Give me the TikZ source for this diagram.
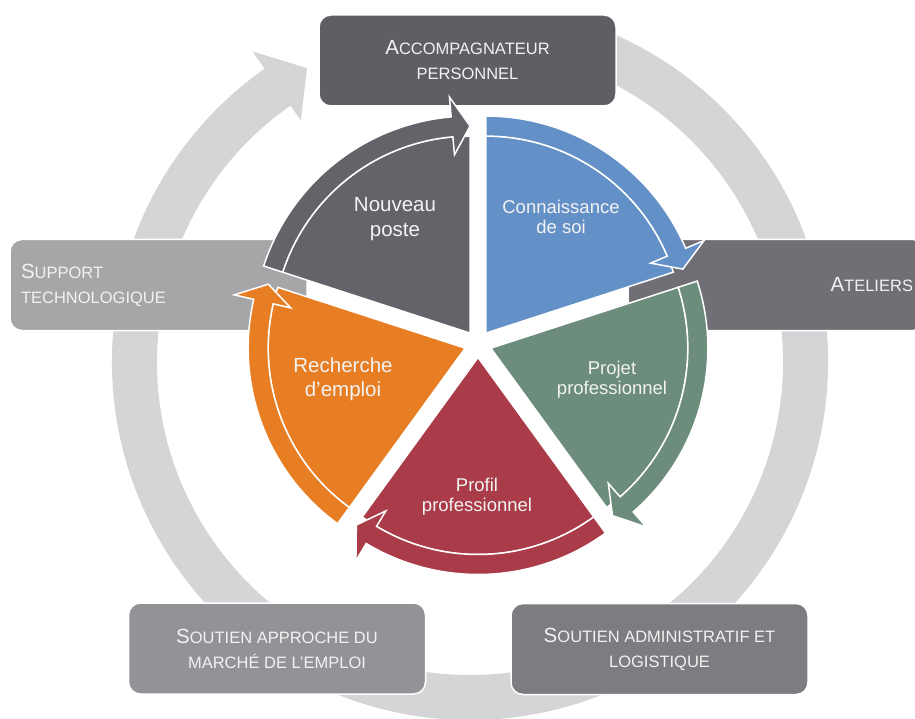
\documentclass[tikz,border=0pt]{standalone}
\usepackage{fontspec}
\setmainfont{Liberation Sans}
\usetikzlibrary{calc}
\definecolor{segGray}{RGB}{99,100,106}
\definecolor{segBlue}{RGB}{99,145,199}
\definecolor{segGreen}{RGB}{108,140,124}
\definecolor{segRed}{RGB}{170,60,73}
\definecolor{segOrange}{RGB}{232,126,36}
\definecolor{boxTop}{RGB}{94,95,101}
\definecolor{boxRight}{RGB}{111,111,117}
\definecolor{boxLeft}{RGB}{166,166,168}
\definecolor{boxBL}{RGB}{146,147,151}
\definecolor{boxBR}{RGB}{124,124,129}
\definecolor{ringCol}{RGB}{212,213,215}
\definecolor{txtCol}{RGB}{242,242,242}
\newcommand\BigLet[1]{{\fontsize{20.5pt}{25pt}\selectfont #1}}
\newcommand\drawseg[3]{%
  \pgfmathsetmacro\segE{#1-72}%
  \pgfmathsetmacro\segB{#1-36}%
  \pgfmathsetmacro\segH{#1-72+5}%
  \coordinate (#3) at ($(C)+(\segB:13.5)$);
  \fill[#2, draw=white, line width=1.5pt] (#3) -- ($(#3)+(#1:197)$)
     arc[start angle=#1, end angle=\segE, radius=197pt] -- cycle;
  \fill[#2, draw=white, line width=1.5pt, line join=miter]
     ($(#3)+(#1:217)$) arc[start angle=#1, end angle=\segH, radius=217pt]
     -- ($(#3)+(\segH:237)$) -- ($(#3)+(\segE:207)$) -- ($(#3)+(\segH:179)$)
     -- ($(#3)+(\segH:197)$) arc[start angle=\segH, end angle=#1, radius=197pt] -- cycle;
}
\begin{document}
\begin{tikzpicture}[x=1pt,y=1pt,
  box/.style={rounded corners=12pt, draw=white, line width=1.5pt,
    minimum width=297pt, minimum height=91pt, inner sep=0pt, text=txtCol,
    font=\fontsize{16.5pt}{25pt}\selectfont},
  segtxt/.style={inner sep=0pt, align=center, text=txtCol}]
\useasboundingbox (0,0) rectangle (915,-719);
% outer ring arrow
\coordinate (R) at (470,-362);
\fill[ringCol] ($(R)+(70:358)$) arc[start angle=70, end angle=-235, radius=358pt]
  -- ($(R)+(-235:379)$) -- ($(R)+(-241:336)$) -- ($(R)+(-235:295)$)
  -- ($(R)+(-235:313)$) arc[start angle=-235, end angle=70, radius=313pt] -- cycle;
% boxes
\node[box, fill=boxTop, align=center] (accomp) at (467.5,-60.5)
  {\BigLet{A}CCOMPAGNATEUR\\PERSONNEL};
\node[box, fill=boxLeft, text width=275pt, align=left] (support) at (158.5,-285)
  {\BigLet{S}UPPORT\\TECHNOLOGIQUE};
\node[box, fill=boxRight, text width=273pt, align=right] (ateliers) at (776.5,-285)
  {\BigLet{A}TELIERS};
\node[box, fill=boxBL, align=center] (marche) at (277,-648.5)
  {\BigLet{S}OUTIEN APPROCHE DU\\MARCHÉ DE L'EMPLOI};
\node[box, fill=boxBR, align=center] (admin) at (659.5,-649)
  {\BigLet{S}OUTIEN ADMINISTRATIF ET\\LOGISTIQUE};
% segments
\coordinate (C) at (478,-344);
\drawseg{162}{segGray}{pgray}
\drawseg{90}{segBlue}{pblue}
\drawseg{18}{segGreen}{pgreen}
\drawseg{-54}{segRed}{pred}
\drawseg{-126}{segOrange}{porange}
% segment labels
\node[segtxt, font=\fontsize{20.5pt}{25pt}\selectfont] (tnouveau) at (395,-219.5) {Nouveau\\poste};
\node[segtxt, font=\fontsize{18.5pt}{20.5pt}\selectfont] (tconn) at (561,-217) {Connaissance\\de soi};
\node[segtxt, font=\fontsize{18.5pt}{20pt}\selectfont] (tprojet) at (612,-380) {Projet\\professionnel};
\node[segtxt, font=\fontsize{18.5pt}{19.5pt}\selectfont] (tprofil) at (477,-496.5) {Profil\\professionnel};
\node[segtxt, font=\fontsize{20.5pt}{24pt}\selectfont] (trech) at (343,-379) {Recherche\\d'emploi};
\end{tikzpicture}
\end{document}
